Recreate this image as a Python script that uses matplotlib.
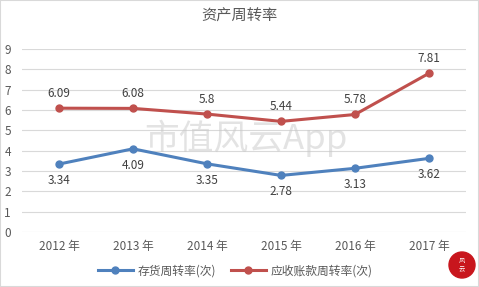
import numpy as np
import matplotlib.pyplot as plt
from matplotlib.patches import Ellipse, Rectangle

plt.rcParams['font.family'] = ['Noto Sans CJK SC', 'DejaVu Sans']

# data
years = ['2012 年', '2013 年', '2014 年', '2015 年', '2016 年', '2017 年']
inventory_turnover = [3.34, 4.09, 3.35, 2.78, 3.13, 3.62]
receivable_turnover = [6.09, 6.08, 5.8, 5.44, 5.78, 7.81]
inv_labels = ['3.34', '4.09', '3.35', '2.78', '3.13', '3.62']
rec_labels = ['6.09', '6.08', '5.8', '5.44', '5.78', '7.81']

blue = '#4F81BD'
red = '#C0504D'
txt = '#595959'

fig = plt.figure(figsize=(4.79, 2.87), dpi=100)
ax = fig.add_axes([0.046, 0.192, 0.927, 0.637])

x = np.arange(len(years))
ax.plot(x, inventory_turnover, color=blue, lw=2.2, marker='o', ms=5,
        label='存货周转率(次)')
ax.plot(x, receivable_turnover, color=red, lw=2.2, marker='o', ms=5,
        label='应收账款周转率(次)')

for xi, v, s in zip(x, receivable_turnover, rec_labels):
    ax.annotate(s, (xi, v), xytext=(0, 6), textcoords='offset points',
                ha='center', va='bottom', fontsize=8.5, color='#404040')
for xi, v, s in zip(x, inventory_turnover, inv_labels):
    ax.annotate(s, (xi, v), xytext=(0, -7), textcoords='offset points',
                ha='center', va='top', fontsize=8.5, color='#404040')

ax.set_xlim(-0.5, len(years) - 0.5)
ax.set_ylim(0, 9)
ax.set_yticks(range(0, 10))
ax.set_xticks(x)
ax.set_xticklabels(years)
ax.tick_params(length=0, labelsize=8.5, labelcolor=txt)
ax.tick_params(axis='y', pad=8)
ax.tick_params(axis='x', pad=6)
ax.grid(axis='y', color='#D9D9D9', lw=0.8)
ax.set_axisbelow(True)
for sp in ax.spines.values():
    sp.set_visible(False)

fig.text(0.5, 0.945, '资产周转率', ha='center', va='center', fontsize=11,
         color=txt)

# watermark
fig.text(246 / 479, 1 - 138 / 287, '市值风云App', ha='center', va='center',
         fontsize=25, color='#C8C8C8', alpha=0.5)

ax.legend(loc='upper center', bbox_to_anchor=(0.48, -0.12), ncol=2,
          frameon=False, fontsize=8.5, labelcolor=txt, handlelength=3,
          columnspacing=1.2, handletextpad=0.4)

# logo in the corner
cx, cy = 462 / 479, 1 - 265 / 287
fig.patches.append(Ellipse((cx, cy), 26 / 479, 26 / 287, transform=fig.transFigure,
                           color='#C8161D', zorder=5))
fig.text(cx, cy, '风\n云', ha='center', va='center', fontsize=4.5,
         color='white', zorder=6, linespacing=1.0)

# light frame
fig.patches.append(Rectangle((0, 0), 1, 1, transform=fig.transFigure, fill=False,
                             edgecolor='#D9D9D9', lw=1.5))

fig.savefig('out.png', dpi=100)
